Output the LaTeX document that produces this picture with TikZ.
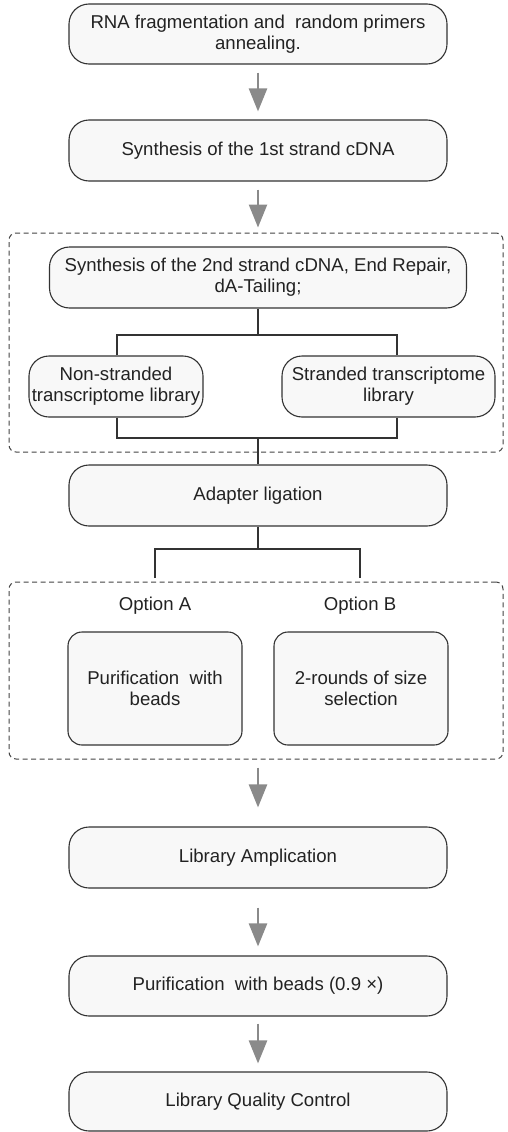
\documentclass[tikz,border=0pt]{standalone}
\usepackage{fontspec}
\setmainfont{Liberation Sans}
\usetikzlibrary{arrows.meta}
\definecolor{boxfill}{HTML}{F8F8F8}
\definecolor{boxline}{HTML}{333333}
\definecolor{dashline}{HTML}{444444}
\definecolor{arrgray}{HTML}{8A8A8A}
\definecolor{txt}{HTML}{222222}
\tikzset{
  stepbox/.style={draw=boxline, line width=1.1pt, fill=boxfill, rounded corners=20pt,
    align=center, inner sep=0pt, text=txt, font=\fontsize{18.6pt}{21pt}\selectfont,
    minimum width=378pt, minimum height=61pt},
  optbox/.style={stepbox, rounded corners=14pt, minimum width=174pt, minimum height=113pt},
  groupbox/.style={draw=dashline, line width=1pt, dash pattern=on 5pt off 3.5pt, rounded corners=7pt,
    inner sep=0pt},
  conn/.style={draw=boxline, line width=1.1pt},
  arr/.style={draw=arrgray, line width=2.5pt, -{Triangle[length=23pt,width=18pt]}},
  lbl/.style={text=txt, font=\fontsize{18.6pt}{21pt}\selectfont, inner sep=0pt}
}
\begin{document}
\begin{tikzpicture}[x=1pt,y=-1pt]
\useasboundingbox (0,0) rectangle (507,1132);
% group boxes
\node[groupbox, minimum width=494pt, minimum height=219pt] (g1) at (256,342.5) {};
\node[groupbox, minimum width=494pt, minimum height=177pt] (g2) at (256,670.5) {};
% main steps
\node[stepbox, minimum height=60pt] (b1) at (258,34) {RNA fragmentation and~ random primers\\annealing.};
\node[stepbox] (b2) at (258,150.5) {Synthesis of the 1st strand cDNA};
\node[stepbox, minimum width=417pt] (b3) at (258,277.5) {Synthesis of the 2nd strand cDNA, End Repair,\\dA-Tailing;};
\node[stepbox, minimum width=174pt] (b4) at (116,386.5) {Non-stranded\\transcriptome library};
\node[stepbox, minimum width=213pt] (b5) at (388.5,386.5) {Stranded transcriptome\\library};
\node[stepbox] (ad) at (258,495.5) {Adapter ligation};
\node[lbl] (la) at (155,606) {Option A};
\node[lbl] (lb) at (360,606) {Option B};
\node[optbox] (oa) at (155,688.5) {Purification~ with\\beads};
\node[optbox] (ob) at (361,688.5) {2-rounds of size\\selection};
\node[stepbox] (amp) at (258,857.5) {Library Amplication};
\node[stepbox, minimum height=60pt] (pur) at (258,986) {Purification~ with beads (0.9 ×)};
\node[stepbox, minimum height=59pt] (qc) at (258,1101.5) {Library Quality Control};
% arrows
\draw[arr, shorten <=8pt, shorten >=8pt] (b1.south) -- (b2.north);
\draw[arr, shorten <=8pt, shorten >=5pt] (b2.south) -- (b2.south |- g1.north);
\draw[arr, shorten <=8pt, shorten >=19pt] (g2.south -| amp.south) -- (amp.north);
\draw[arr, shorten <=19pt, shorten >=9pt] (amp.south) -- (pur.north);
\draw[arr, shorten <=7pt, shorten >=8pt] (pur.south) -- (qc.north);
% tree connectors
\coordinate (j1) at (258,335);
\coordinate (j2) at (258,438);
\coordinate (j3) at (258,549);
\coordinate (ea) at (155,578);
\coordinate (eb) at (360,578);
\draw[conn] (b3.south) -- (j1);
\draw[conn] ([xshift=1pt]b4.north) |- (j1) -| ([xshift=8.5pt]b5.north);
\draw[conn] ([xshift=1pt]b4.south) |- (j2) -| ([xshift=8.5pt]b5.south);
\draw[conn] (j2) -- (ad.north);
\draw[conn] (ad.south) -- (j3);
\draw[conn] (ea) |- (j3) -| (eb);
\end{tikzpicture}
\end{document}
